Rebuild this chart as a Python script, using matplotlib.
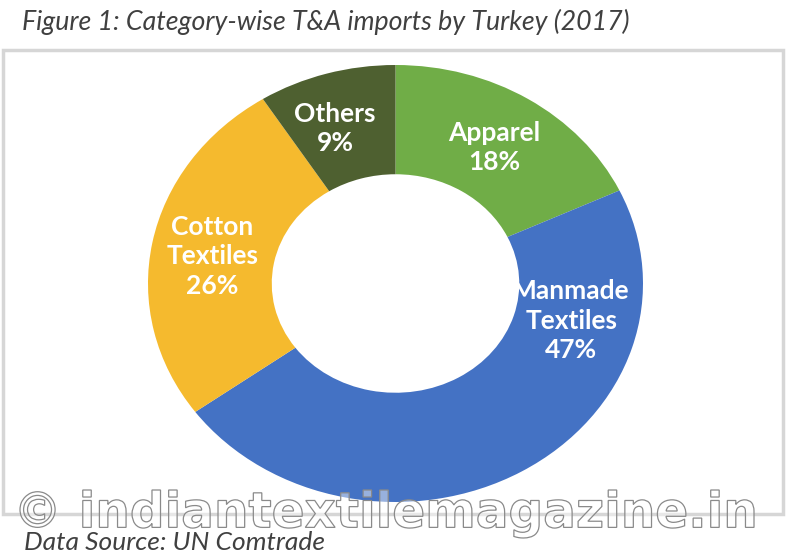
import numpy as np
import matplotlib
matplotlib.use("Agg")
import matplotlib.pyplot as plt
from matplotlib.patches import Rectangle, PathPatch
from matplotlib.textpath import TextPath
from matplotlib.font_manager import FontProperties
from matplotlib.transforms import Affine2D

# ---- data ----
categories = ["Apparel", "Manmade\nTextiles", "Cotton\nTextiles", "Others"]
shares = [18, 47, 26, 9]
colors = ["#70AD47", "#4472C4", "#F5BA2E", "#4E6030"]
title = "Figure 1: Category-wise T&A imports by Turkey (2017)"
source = "Data Source: UN Comtrade"
watermark = "\u00a9 indiantextilemagazine.in"

W, H = 787, 557
fig = plt.figure(figsize=(W / 100, H / 100), dpi=100)
fig.patch.set_facecolor("white")

# background overlay axes in pixel coordinates
bg = fig.add_axes([0, 0, 1, 1], zorder=0)
bg.set_xlim(0, W)
bg.set_ylim(H, 0)
bg.axis("off")

bg.add_patch(Rectangle((3, 50), 780, 464, facecolor="white",
                       edgecolor="#D6D6D6", lw=2.5))
bg.text(22, 22, title, fontsize=19.3, style="italic", family="Lato",
        color="#404040", va="center", ha="left")

# donut axes
x0, x1, y0, y1 = 148, 643, 65, 502
ax = fig.add_axes([x0 / W, 1 - y1 / H, (x1 - x0) / W, (y1 - y0) / H], zorder=1)
wedges, _ = ax.pie(shares, colors=colors, startangle=90, counterclock=False,
                   radius=1.0, wedgeprops=dict(width=0.5, edgecolor="none"))
ax.set_aspect("auto")
ax.set_xlim(-1, 1)
ax.set_ylim(-1, 1)
ax.axis("off")

# labels: (radius, angle deg) placement for each label
label_place = {0: (0.74, 57.3), 1: (0.73, -13.5), 2: (0.75, 170.4), 3: (0.75, 109.0)}
for i, (w, cat, v) in enumerate(zip(wedges, categories, shares)):
    r, mid = label_place[i]
    xx = r * np.cos(np.deg2rad(mid))
    yy = r * np.sin(np.deg2rad(mid))
    ax.text(xx, yy, f"{cat}\n{v}%", ha="center", va="center",
            fontsize=19, fontweight="bold", family="Lato", color="white",
            linespacing=1.28)

# top overlay for source + watermark
top = fig.add_axes([0, 0, 1, 1], zorder=2)
top.set_xlim(0, W)
top.set_ylim(H, 0)
top.axis("off")
top.patch.set_alpha(0)

top.text(24, 543, source, fontsize=19, style="italic", family="Lato",
         color="#404040", va="center", ha="left")

tp = TextPath((0, 0), watermark, size=1,
              prop=FontProperties(family="DejaVu Sans", weight="bold"))
ext = tp.get_extents()
bx0, by0, bx1, by1 = 20, 490, 754, 538
tr = (Affine2D().translate(-ext.x0, -ext.y0)
      .scale((bx1 - bx0) / ext.width, -(by1 - by0) / ext.height)
      .translate(bx0, by1))
wpath = tr.transform_path(tp)
top.add_patch(PathPatch(wpath, facecolor=(1, 1, 1, 0.45),
                        edgecolor="#8A8A8A", lw=0.9))

fig.savefig("out.png", dpi=100)
